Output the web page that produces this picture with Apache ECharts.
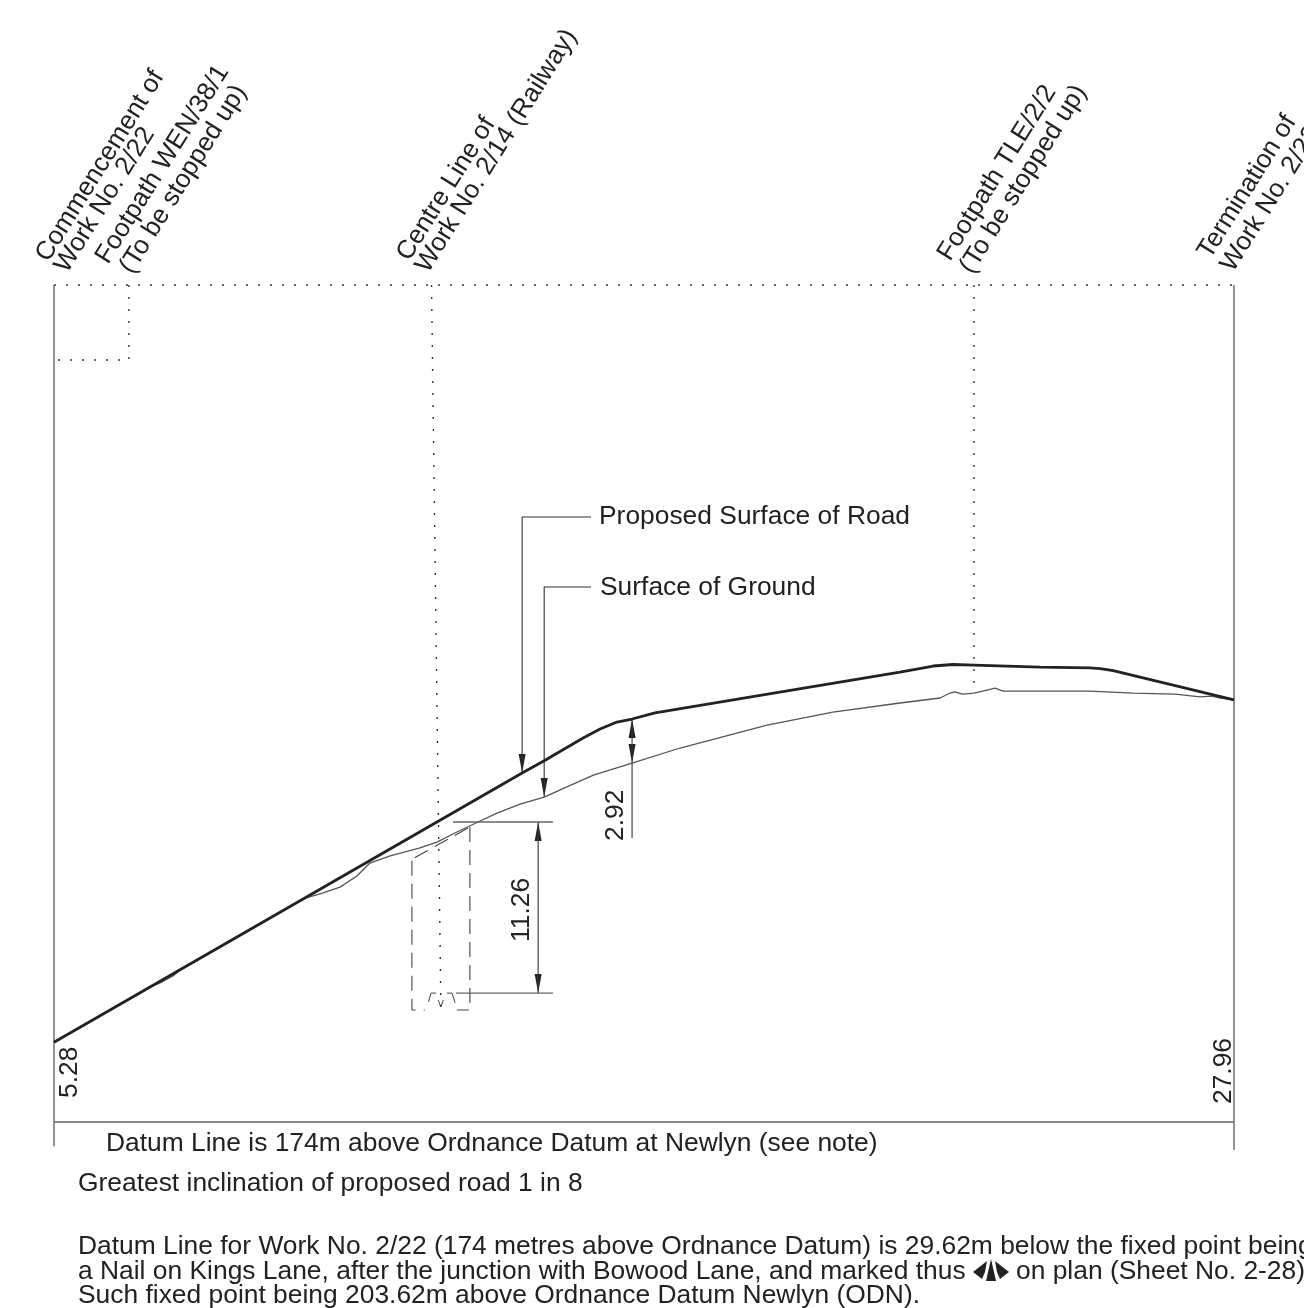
<!DOCTYPE html>
<html><head><meta charset="utf-8">
<style>html,body{margin:0;padding:0;background:#fff;overflow:hidden}#c{width:1304px;height:1308px}</style>
<script src="https://cdn.jsdelivr.net/npm/echarts@6/dist/echarts.min.js"></script>
</head><body><div id="c"></div>
<script>
// chainage (m), level above datum (m)
const road = [[0,5.28],[126.8,19.87],[155,23.11],[162.3,23.93],[175.2,25.43],[180.8,26.03],[186.4,26.49],[191.4,26.69],[199,27.09],[280.1,29.8],[291.1,30.2],[297.7,30.3],[304.6,30.26],[326.5,30.13],[343,30.07],[346.4,30.03],[350.7,29.89],[390.7,27.96]];
const ground = [[0,5.28],[15.2,7.02],[32.8,9.04],[35.1,9.21],[39.4,9.67],[41.7,10.07],[81.5,14.65],[83.8,14.87],[89.1,15.17],[94.7,15.56],[100.3,16.29],[104.6,17.15],[111.3,17.62],[121.2,18.15],[126.8,18.54],[133.4,19.21],[140.4,19.87],[146.7,20.46],[154.3,21.06],[162.3,21.52],[169.8,22.2],[178.6,22.97],[191.4,23.77],[207.3,24.77],[236.1,26.29],[257.9,27.15],[280.1,27.75],[293.4,28.08],[296.7,28.41],[298.3,28.48],[300.7,28.34],[304.6,28.41],[308.9,28.61],[311.6,28.74],[314.2,28.54],[324.2,28.54],[343,28.54],[357.3,28.41],[371.2,28.34],[379.5,28.15],[383.4,28.21],[386.1,28.08],[390.7,27.96]];
const frameSolid = [[[0,55.43],[0,-1.6]],[[390.7,55.43],[390.7,-1.85]],[[0,0],[390.7,0]]];
const frameDotted = [[[0,55.43],[390.7,55.43]],[[24.8,55.43],[24.8,50.46],[0,50.46]],[[304.6,55.43],[304.6,28.41]]];
const railCentre = [[125,55.43],[128.1,7.6]];
const cuttingDashed = [[[118.5,17.3],[118.5,7.42],[122.8,7.42]],[[119.4,17.5],[137.7,19.54]],[[137.7,19.54],[137.7,7.42],[133.4,7.42]]];
const cuttingSolid = [[[124,7.95],[124.8,8.54],[126.5,8.54]],[[130.1,8.54],[131.8,8.54],[132.8,7.9]],[[127.2,8.08],[128.1,7.62],[128.9,8.08]]];
const leaders = [[[155,23.11],[155,40.07],[177.8,40.07]],[[162.3,21.52],[162.3,35.43],[177.8,35.43]],[[191.4,26.69],[191.4,18.81]],[[160.3,19.87],[160.3,8.54]]];
const dimLines = [[[132.1,19.87],[165.2,19.87]],[[133.1,8.54],[165.2,8.54]]];
const arrowsDown = [[155,23.11],[162.3,21.52],[191.4,23.77],[160.3,8.54]];
const arrowsUp = [[191.4,26.69],[160.3,19.87]];
const FONT = '"Liberation Sans", Arial, sans-serif';
const headLabels = [
  ['Commencement of',53,266],['Work No. 2/22',72,277],['Footpath WEN/38/1',113,268],['(To be stopped up)',137,278],
  ['Centre Line of',414,265],['Work No. 2/14 (Railway)',433,277],
  ['Footpath TLE/2/2',955,265],['(To be stopped up)',977,278],
  ['Termination of',1215,263],['Work No. 2/22',1238,276]
];
const dimTexts = [['5.28',83,1098],['27.96',1237,1104],['2.92',629,841],['11.26',535,942]];
const noteTexts = [
  ['Proposed Surface of Road',599,525],['Surface of Ground',600,596],
  ['Datum Line is 174m above Ordnance Datum at Newlyn (see note)',106,1152],
  ['Greatest inclination of proposed road 1 in 8',78,1192],
  ['Datum Line for Work No. 2/22 (174 metres above Ordnance Datum) is 29.62m below the fixed point being',78,1255],
  ['a Nail on Kings Lane, after the junction with Bowood Lane, and marked thus',78,1280],
  ['on plan (Sheet No. 2-28)',1016,1280],
  ['Such fixed point being 203.62m above Ordnance Datum Newlyn (ODN).',78,1304]
];
function multi(paths,color,width,type,name){
  return paths.map(d=>({type:'line',name,data:d,symbol:'none',silent:true,animation:false,clip:false,
    lineStyle:{color,width,type,cap:'butt'}}));
}
const series=[
  ...multi(frameSolid,'#666',1.4,'solid','frame'),
  ...multi(frameDotted,'#333',1.4,[2,10],'dotted'),
  ...multi([railCentre],'#333',1.4,[2,10],'rail'),
  ...multi(cuttingDashed,'#444',1.1,[15,8],'cutting'),
  ...multi(cuttingSolid,'#444',1,'solid','cutting'),
  ...multi(leaders,'#333',1.1,'solid','leader'),
  ...multi(dimLines,'#666',1.4,'solid','dim'),
  ...multi([ground],'#555',1.3,'solid','Surface of Ground'),
  ...multi([road],'#222',2.8,'solid','Proposed Surface of Road'),
  {type:'scatter',data:arrowsDown,symbol:'triangle',symbolSize:[7,19],symbolRotate:180,symbolOffset:[0,-9.5],itemStyle:{color:'#222',opacity:1},silent:true,animation:false,clip:false},
  {type:'scatter',data:arrowsUp,symbol:'triangle',symbolSize:[7,19],symbolOffset:[0,9.5],itemStyle:{color:'#222',opacity:1},silent:true,animation:false,clip:false}
];
const ROT=58*Math.PI/180;
const txt=(t,x,y,rot,size)=>({type:'text',x,y,rotation:rot,silent:true,
  style:{text:t,fill:'#222',font:size+'px '+FONT,textAlign:'left',textVerticalAlign:'bottom'}});
const graphic=[
  ...headLabels.map(a=>txt(a[0],a[1],a[2],ROT,26)),
  ...dimTexts.map(a=>txt(a[0],a[1],a[2],Math.PI/2,26.4)),
  ...noteTexts.map(a=>txt(a[0],a[1],a[2]+5,0,26.4)),
  {type:'polygon',silent:true,shape:{points:[[991,1259],[996,1281],[986,1281]]},style:{fill:'#222'}},
  {type:'polygon',silent:true,shape:{points:[[987,1261],[973,1272],[982,1279],[985,1272]]},style:{fill:'#222'}},
  {type:'polygon',silent:true,shape:{points:[[995,1261],[1009,1272],[1000,1279],[997,1272]]},style:{fill:'#222'}}
];
const chart=echarts.init(document.getElementById('c'),null,{renderer:'canvas',width:1304,height:1308});
chart.setOption({
  animation:false,backgroundColor:'#fff',
  grid:{left:54,right:70,top:285,bottom:158},
  xAxis:{type:'value',min:0,max:390.7,show:false},
  yAxis:{type:'value',min:-1.85,max:55.43,show:false},
  tooltip:{show:false},legend:{show:false},
  series,graphic
});
</script></body></html>
